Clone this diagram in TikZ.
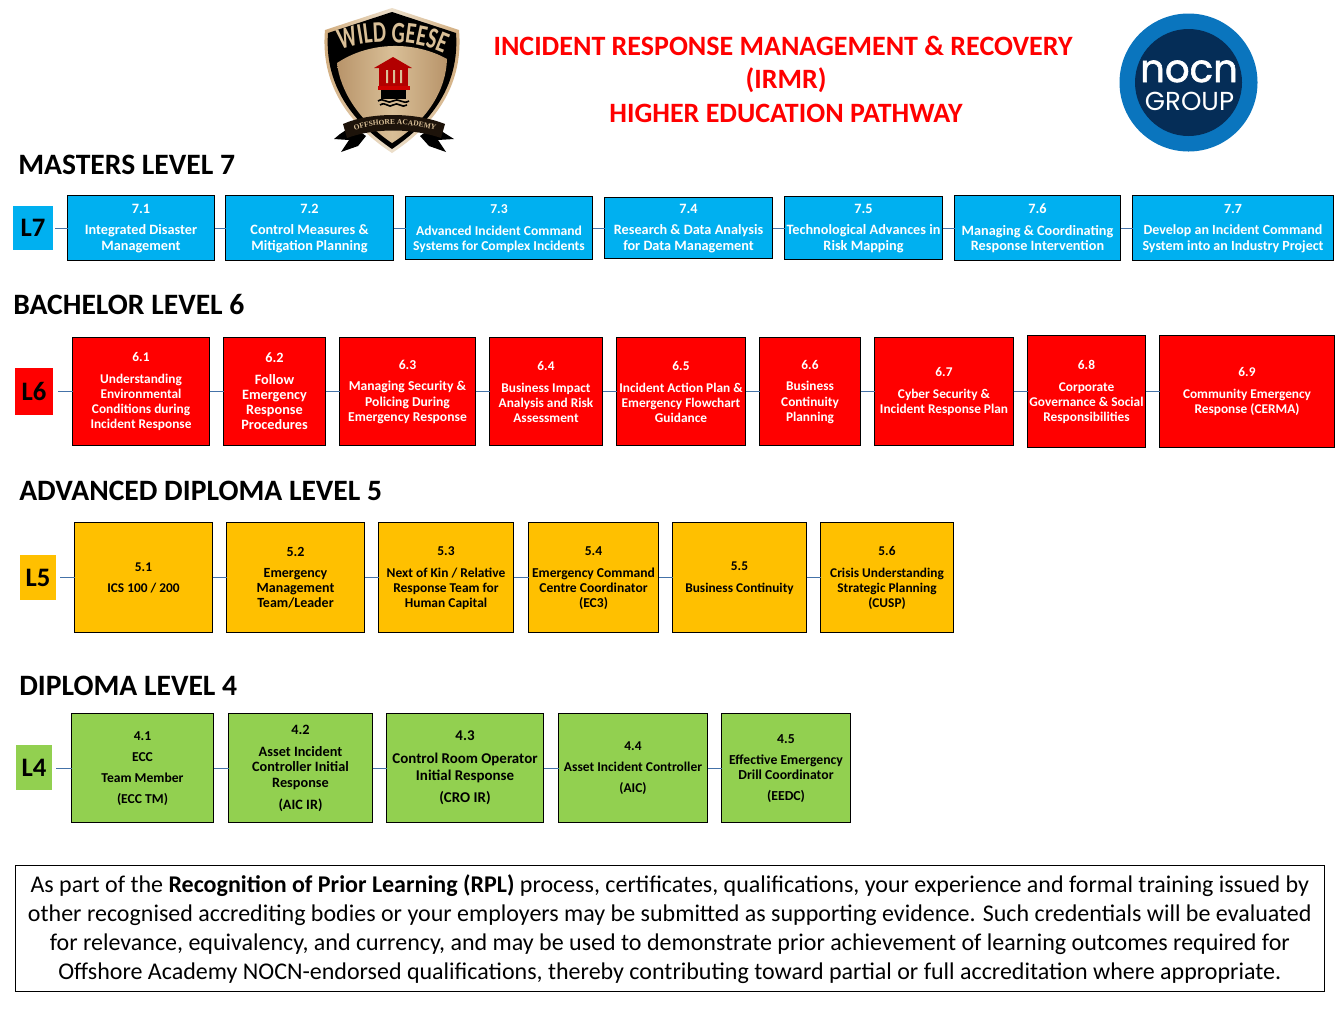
\documentclass[tikz,border=0pt]{standalone}
\usepackage{fontspec}
\setmainfont{Carlito}
\newfontfamily\crestfont[FakeStretch=0.7]{Carlito}
\newfontfamily\ribbonfont{Liberation Serif}
\newfontfamily\popfont{Poppins}
\newfontfamily\popbold[FakeBold=1.6]{Poppins}
\usetikzlibrary{decorations.text,shadings}
\definecolor{blu}{HTML}{00B0F0}
\definecolor{rd}{HTML}{FF0000}
\definecolor{amb}{HTML}{FFC000}
\definecolor{grn}{HTML}{92D050}
\definecolor{conn}{HTML}{4472A8}
\definecolor{gold}{HTML}{B8946A}
\definecolor{goldl}{HTML}{D9BF97}
\definecolor{nocnb}{HTML}{0A75BE}
\definecolor{nocnd}{HTML}{052D57}
\tikzset{
 x=0.75pt,y=-0.75pt,
 fs/.style={font=\bfseries\fontsize{#1}{11.3}\selectfont},
 boxbase/.style={draw=black,line width=0.8pt,inner sep=0pt,outer sep=0pt,align=center,fs=10},
 tagbase/.style={inner sep=0pt,outer sep=0pt,font=\bfseries\fontsize{20}{22}\selectfont,text=black},
 head/.style={anchor=west,inner sep=0pt,font=\bfseries\fontsize{22.2}{24}\selectfont},
 titleline/.style={text=red,inner sep=0pt,font=\bfseries\fontsize{21}{24}\selectfont},
 link/.style={draw=conn,line width=0.75pt},
}
\newcommand{\bx}[7][]{\node[boxbase,#1,minimum width={(#4-#3)*0.75pt},minimum height={(#6-#5)*0.75pt}] (#2) at ({(#3+#4)/2+0.5},{(#5+#6)/2+0.5}) {\rule{0pt}{7.2pt}#7};}
\newcommand{\tg}[7]{\node[tagbase,fill=#7,minimum width={(#3-#2)*0.75pt},minimum height={(#5-#4)*0.75pt}] (#1) at ({(#2+#3)/2},{(#4+#5)/2}) {#6};}
\begin{document}
\begin{tikzpicture}
\useasboundingbox (0,0) rectangle (1344,1008);
\fill[white] (0,0) rectangle (1344,1008);
% Wild Geese crest
\path[left color=goldl!70!brown,right color=goldl!70!brown,middle color=goldl!50!white] (392,8) -- (459,30) .. controls (463,75) and (445,118) .. (392,153) .. controls (339,118) and (321,75) .. (325,30) -- cycle;
\fill[black] (392,12) -- (456,33) .. controls (459,75) and (442,115) .. (392,149) .. controls (342,115) and (325,75) .. (328,33) -- cycle;
\path[left color=gold,right color=gold,middle color=goldl] (337,63) .. controls (370,41) and (415,41) .. (447,59) .. controls (446,90) and (428,120) .. (392,143) .. controls (358,120) and (340,90) .. (337,63) -- cycle;
\path[postaction={decorate,decoration={text along path,text align=center,text={|\crestfont\bfseries\fontsize{22.5}{24}\selectfont\color{goldl}|WILD GEESE}}}] (333,53) .. controls (365,38) and (420,38) .. (451,57);
% temple
\fill[red!70!black] (393,57) -- (412,68) -- (374,68) -- cycle;
\fill[red!70!black] (379,68) rectangle (408,88);
\fill[goldl] (386,70) rectangle (388,83) (393,70) rectangle (395,83) (400,70) rectangle (402,83);
\fill[red!80!black] (378,86) rectangle (410,90);
\fill[black] (381,90) rectangle (406,99);
\draw[black,line width=1.2pt] (378,101) .. controls (384,97) and (388,105) .. (393,101) .. controls (398,97) and (403,105) .. (409,101);
\draw[black,line width=1.2pt] (380,105) .. controls (386,101) and (389,109) .. (393,105) .. controls (398,101) and (402,109) .. (407,105);
% ribbon
\fill[black] (340,134) -- (334,139) -- (349,140) -- (341,152) -- (358,146) -- (366,136) -- (352,126) -- cycle;
\fill[black] (446,134) -- (454,139) -- (438,140) -- (446,152) -- (429,146) -- (420,136) -- (434,126) -- cycle;
\fill[black!85!brown] (343,124) .. controls (370,112) and (415,112) .. (445,124) -- (441,138) .. controls (412,128) and (374,128) .. (347,138) -- cycle;
\path[postaction={decorate,decoration={text along path,text align=center,text={|\ribbonfont\bfseries\fontsize{5.6}{6}\selectfont\color{goldl}|OFFSHORE ACADEMY}}}] (350,132) .. controls (375,122) and (412,122) .. (440,132);
% NOCN logo
\fill[nocnb] (1188.5,82.5) circle (69);
\fill[nocnd] (1188.5,82.5) circle (53.5);
\node[inner sep=0pt,text=white,anchor=base] (nocn) at (1189,82) {\popbold\fontsize{29}{32}\selectfont nocn};
\node[inner sep=0pt,text=white,anchor=base] (grp) at (1189.5,110) {\popfont\fontsize{19.5}{22}\selectfont GROUP};
% Titles
\node[titleline] (t1) at (783,46) {INCIDENT RESPONSE MANAGEMENT \& RECOVERY};
\node[titleline] (t2) at (786,80.5) {(IRMR)};
\node[titleline] (t3) at (786,113) {HIGHER EDUCATION PATHWAY};
\node[head] (h7) at (18,164.5) {MASTERS LEVEL 7};
\node[head] (h6) at (13,304.5) {BACHELOR LEVEL 6};
\node[head] (h5) at (19,490.5) {ADVANCED DIPLOMA LEVEL 5};
\node[head] (h4) at (19,685.5) {DIPLOMA LEVEL 4};
\coordinate (r7) at (0,228.3);
\coordinate (r6) at (0,391.3);
\coordinate (r5) at (0,577.3);
\coordinate (r4) at (0,768);
% L7
\tikzset{boxbase/.append style={fill=blu,text=white}}
\tg{L7}{13}{53}{206}{250}{L7}{blu}
\bx[fs=10.7]{b71}{67}{214}{195}{260}{7.1\\[5pt]Integrated Disaster\\Management}
\bx[fs=10.7]{b72}{225}{393}{195}{260}{7.2\\[5pt]Control Measures \&\\Mitigation Planning}
\bx[fs=10.2]{b73}{405}{592}{196}{259}{7.3\\[5pt]Advanced Incident Command\\Systems for Complex Incidents}
\bx[fs=10.7]{b74}{604}{772}{197}{258}{7.4\\[5pt]Research \& Data Analysis\\for Data Management}
\bx[fs=10.7]{b75}{784}{942}{196}{259}{7.5\\[5pt]Technological Advances in\\Risk Mapping}
\bx[fs=10.7]{b76}{954}{1120}{195}{260}{7.6\\[5pt]Managing \& Coordinating\\Response Intervention}
\bx[fs=10.5]{b77}{1132}{1333}{195}{260}{7.7\\[5pt]Develop an Incident Command\\System into an Industry Project}
\draw[link,shorten <=1.5pt] (L7.east |- r7) -- (b71.west |- r7);
\foreach \a/\b in {b71/b72,b72/b73,b73/b74,b74/b75,b75/b76,b76/b77} \draw[link] (\a.east |- r7) -- (\b.west |- r7);
% L6
\tikzset{boxbase/.append style={fill=rd,text=white}}
\tg{L6}{15}{53}{368}{415}{L6}{rd}
\bx{b61}{72}{209}{337}{445}{6.1\\[5pt]Understanding\\Environmental\\Conditions during\\Incident Response}
\bx[fs=10.7]{b62}{223}{325}{337}{445}{6.2\\[5pt]Follow\\Emergency\\Response\\Procedures}
\bx[fs=10.2]{b63}{339}{475}{337}{445}{6.3\\[5pt]Managing Security \&\\Policing During\\Emergency Response}
\bx{b64}{489}{602}{337}{445}{6.4\\[5pt]Business Impact\\Analysis and Risk\\Assessment}
\bx{b65}{616}{745}{337}{445}{6.5\\[5pt]Incident Action Plan \&\\Emergency Flowchart\\Guidance}
\bx{b66}{759}{860}{337}{445}{6.6\\[5pt]Business\\Continuity\\Planning}
\bx{b67}{874}{1013}{337}{445}{6.7\\[5pt]Cyber Security \&\\Incident Response Plan}
\bx{b68}{1027}{1145}{335}{447}{6.8\\[5pt]Corporate\\Governance \& Social\\Responsibilities}
\bx{b69}{1159}{1334}{335}{447}{6.9\\[5pt]Community Emergency\\Response (CERMA)}
\draw[link,shorten <=3.75pt] (L6.east |- r6) -- (b61.west |- r6);
\foreach \a/\b in {b61/b62,b62/b63,b63/b64,b64/b65,b65/b66,b66/b67,b67/b68,b68/b69} \draw[link] (\a.east |- r6) -- (\b.west |- r6);
% L5
\tikzset{boxbase/.append style={fill=amb,text=black}}
\tg{L5}{20}{56}{555}{600}{L5}{amb}
\bx{b51}{74}{212}{522}{632}{5.1\\[5pt]ICS 100 / 200}
\bx[fs=10.5]{b52}{226}{364}{522}{632}{5.2\\[5pt]Emergency\\Management\\Team/Leader}
\bx[fs=10.1]{b53}{378}{513}{522}{632}{5.3\\[5pt]Next of Kin / Relative\\Response Team for\\Human Capital}
\bx[fs=10.2]{b54}{528}{658}{522}{632}{5.4\\[5pt]Emergency Command\\Centre Coordinator\\(EC3)}
\bx{b55}{672}{806}{522}{632}{5.5\\[5pt]Business Continuity}
\bx{b56}{820}{953}{522}{632}{5.6\\[5pt]Crisis Understanding\\Strategic Planning\\(CUSP)}
\draw[link,shorten <=3pt] (L5.east |- r5) -- (b51.west |- r5);
\foreach \a/\b in {b51/b52,b52/b53,b53/b54,b54/b55,b55/b56} \draw[link] (\a.east |- r5) -- (\b.west |- r5);
% L4
\tikzset{boxbase/.append style={fill=grn,text=black}}
\tg{L4}{16}{52}{745}{790}{L4}{grn}
\bx[fs=10.2]{b41}{71}{213}{713}{822}{4.1\\[4.5pt]ECC\\[4.5pt]Team Member\\[4.5pt](ECC TM)}
\bx[fs=10.7]{b42}{228}{372}{713}{822}{4.2\\[5pt]Asset Incident\\Controller Initial\\[1pt]Response\\[5pt](AIC IR)}
\bx[font=\bfseries\fontsize{11.2}{12.4}\selectfont]{b43}{386}{543}{713}{822}{4.3\\[4.5pt]Control Room Operator\\Initial Response\\[4.5pt](CRO IR)}
\bx[fs=10.1]{b44}{558}{707}{713}{822}{4.4\\[4.5pt]Asset Incident Controller\\[4.5pt](AIC)}
\bx[fs=10.3]{b45}{721}{850}{713}{822}{4.5\\[4.5pt]Effective Emergency\\Drill Coordinator\\[4.5pt](EEDC)}
\draw[link,shorten <=3pt] (L4.east |- r4) -- (b41.west |- r4);
\foreach \a/\b in {b41/b42,b42/b43,b43/b44,b44/b45} \draw[link] (\a.east |- r4) -- (\b.west |- r4);
% Note
\node[draw=black,line width=0.8pt,fill=white,inner sep=0pt,align=center,minimum width={1309*0.75pt},minimum height={126*0.75pt},font=\fontsize{18}{21.75}\selectfont] (note) at (669.8,928.5) {\rule{0pt}{14pt}As part of the \textbf{Recognition of Prior Learning (RPL)} process, certificates, qualifications, your experience and formal training issued by\\other recognised accrediting bodies or your employers may be submitted as supporting evidence. Such credentials will be evaluated\\for relevance, equivalency, and currency, and may be used to demonstrate prior achievement of learning outcomes required for\\Offshore Academy NOCN-endorsed qualifications, thereby contributing toward partial or full accreditation where appropriate.};
\end{tikzpicture}
\end{document}
